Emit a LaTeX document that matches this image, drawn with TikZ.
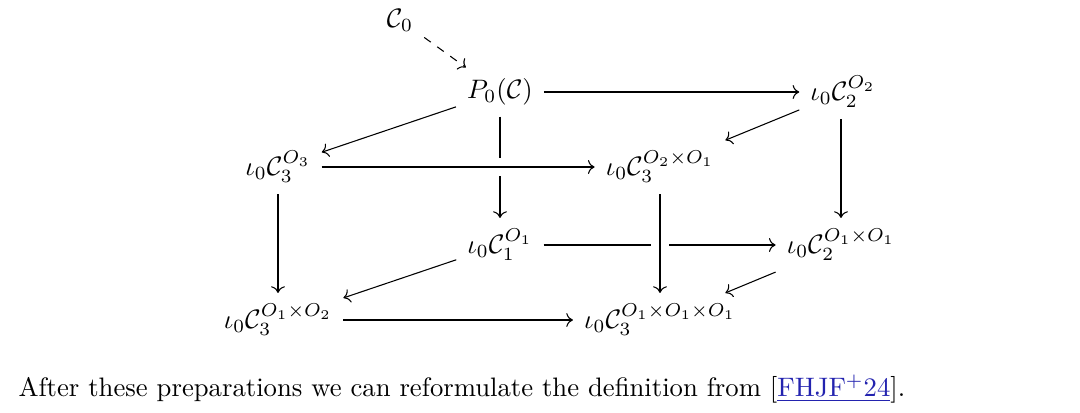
\documentclass[tikz,border=0pt]{standalone}
\usepackage{xcolor}
\usepackage{amsmath, amssymb}
\usepackage{tikz}
\usetikzlibrary{arrows.meta}

\definecolor{linkblue}{RGB}{35,35,175}

\tikzset{
  obj/.style={inner sep=4pt},
  map/.style={-To},
  over/.style={preaction={draw=white, line width=7pt, -}},
}

\begin{document}
\begin{tikzpicture}[x=0.3745pt, y=-0.3745pt]
\useasboundingbox (0,0) rectangle (1080,413);
% objects of the cube
\node[obj] (c0)   at (400,20)  {$\mathcal{C}_0$};
\node[obj] (p0)   at (500,92)  {$P_0(\mathcal{C})$};
\node[obj] (o2)   at (843,92)  {$\iota_0\mathcal{C}_2^{O_2}$};
\node[obj] (o3)   at (278,167) {$\iota_0\mathcal{C}_3^{O_3}$};
\node[obj] (o21)  at (660,167) {$\iota_0\mathcal{C}_3^{O_2\times O_1}$};
\node[obj] (o1)   at (500,245) {$\iota_0\mathcal{C}_1^{O_1}$};
\node[obj] (o11)  at (841,245) {$\iota_0\mathcal{C}_2^{O_1\times O_1}$};
\node[obj] (o12)  at (278,320) {$\iota_0\mathcal{C}_3^{O_1\times O_2}$};
\node[obj] (o111) at (660,320) {$\iota_0\mathcal{C}_3^{O_1\times O_1\times O_1}$};

% back face first, crossing lines on top
\draw[map, dashed] (c0) -- (p0);
\draw[map] (p0) -- (o2);
\draw[map] (p0) -- (o3);
\draw[map] (p0) -- (o1);
\draw[map] (o2) -- (o21);
\draw[map] (o2.south -| o11) -- (o11);
\draw[map, over] (o3) -- (o21);
\draw[map] (o3.south -| o12) -- (o12);
\draw[map] (o1) -- (o12);
\draw[map] (o1) -- (o11);
\draw[map, over] (o21.south -| o111) -- (o111);
\draw[map] (o11) -- (o111);
\draw[map] (o12) -- (o111);

% text below the diagram
\node[anchor=base west, inner sep=0pt] (txt) at (18,396)
  {After these preparations we can reformulate the definition from
   [{\color{linkblue}\underline{FHJF$^+$24}}].};
\end{tikzpicture}
\end{document}
